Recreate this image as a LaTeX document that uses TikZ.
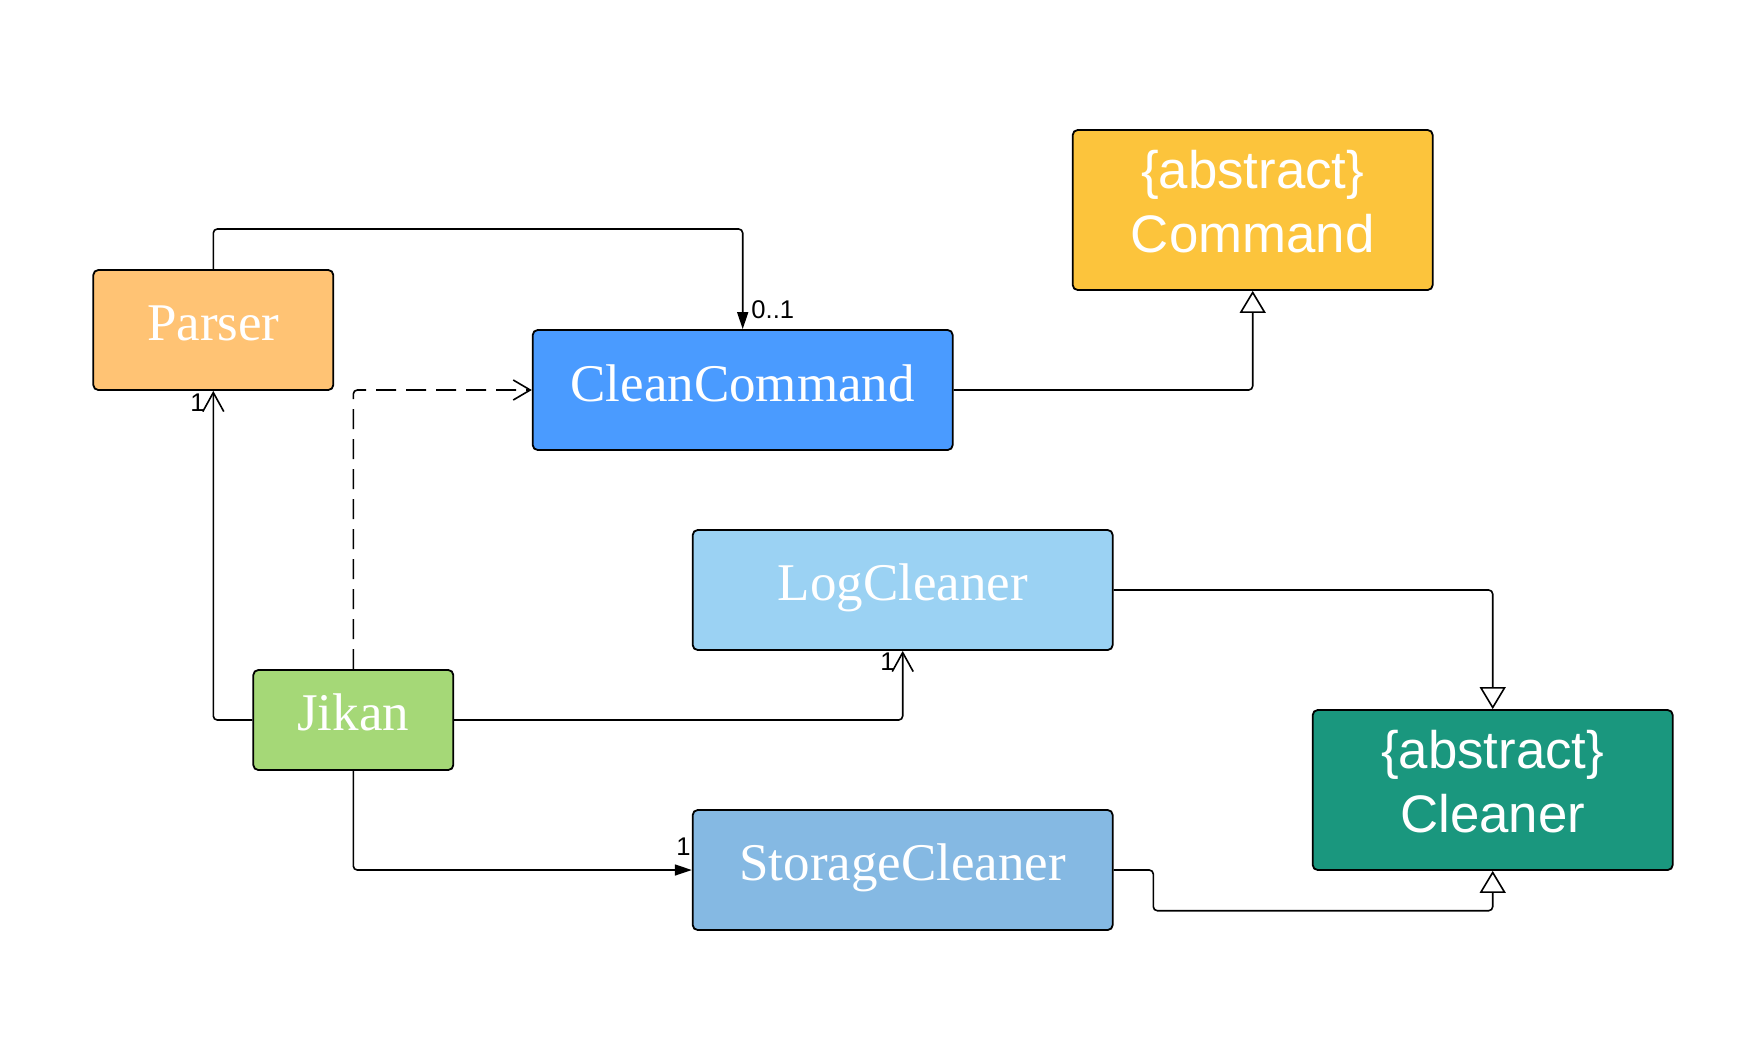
\documentclass[tikz,border=0pt]{standalone}
\usepackage{fontspec}
\setmainfont{Liberation Serif}
\newfontfamily\sansf{Liberation Sans}
\usetikzlibrary{arrows.meta,calc}
\definecolor{cParser}{HTML}{FFC374}
\definecolor{cClean}{HTML}{4A9BFF}
\definecolor{cCommand}{HTML}{FCC43C}
\definecolor{cLog}{HTML}{9BD2F3}
\definecolor{cJikan}{HTML}{A5D877}
\definecolor{cStor}{HTML}{85B9E3}
\definecolor{cCleaner}{HTML}{1A977E}
\tikzset{
  classbox/.style={draw=black, line width=0.9pt, rounded corners=2.5pt, inner sep=0pt},
  serifname/.style={inner sep=0pt, anchor=base, text=white, font=\fontsize{26.5pt}{32pt}\selectfont},
  sansname/.style={inner sep=0pt, anchor=base, text=white, font=\sansf\fontsize{26.4pt}{32pt}\selectfont},
  mult/.style={inner sep=0pt, anchor=base west, font=\sansf\fontsize{12.8pt}{15pt}\selectfont},
  conn/.style={draw=black, line width=0.8pt, rounded corners=2pt},
  nav/.style={conn, -{Straight Barb[length=9.5pt,width=10.5pt]}},
  filled/.style={conn, -{Triangle[length=8.5pt,width=5.5pt]}},
  inherit/.style={conn, -{Triangle[length=11pt,width=13pt,fill=white]}},
  depend/.style={conn, dash pattern=on 10pt off 5pt, -{Straight Barb[length=8.5pt,width=10pt]}}
}
\begin{document}
\begin{tikzpicture}[x=0.5pt,y=-0.5pt]
\useasboundingbox (0,0) rectangle (1745,1062);
% boxes
\node[classbox, fill=cParser, minimum width=120pt, minimum height=60pt] (parser) at (213.3,330) {};
\node[classbox, fill=cClean, minimum width=210pt, minimum height=60pt] (cleancmd) at (742.7,390) {};
\node[classbox, fill=cCommand, minimum width=180pt, minimum height=80pt] (command) at (1252.7,210) {};
\node[classbox, fill=cLog, minimum width=210pt, minimum height=60pt] (logc) at (902.7,590) {};
\node[classbox, fill=cStor, minimum width=210pt, minimum height=60pt] (storc) at (902.7,870) {};
\node[classbox, fill=cJikan, minimum width=100pt, minimum height=50pt] (jikan) at (353.3,720) {};
\node[classbox, fill=cCleaner, minimum width=180pt, minimum height=80pt] (cleaner) at (1492.7,790) {};
% texts
\node[serifname] (tparser) at ($(parser.center)+(0,10)$) {Parser};
\node[serifname] (tclean) at ($(cleancmd.center)+(0,11)$) {CleanCommand};
\node[serifname] (tlog) at ($(logc.center)+(0,10)$) {LogCleaner};
\node[serifname] (tstor) at ($(storc.center)+(0,10)$) {StorageCleaner};
\node[serifname] (tjikan) at ($(jikan.center)+(0,10)$) {Jikan};
\node[sansname] (tcmd1) at ($(command.center)+(0,-21.5)$) {\{abstract\}};
\node[sansname] (tcmd2) at ($(command.center)+(0,42.5)$) {Command};
\node[sansname] (tcln1) at ($(cleaner.center)+(0,-21.5)$) {\{abstract\}};
\node[sansname] (tcln2) at ($(cleaner.center)+(0,42.5)$) {Cleaner};
% connectors
\coordinate (ptop) at (213.3,229);
\draw[filled] (parser.north) |- (ptop -| cleancmd.north) -- (cleancmd.north);
\draw[inherit] (cleancmd.east) -| (command.south);
\draw[nav] (jikan.west) -| (parser.south);
\draw[depend] (jikan.north) |- (cleancmd.west);
\draw[nav] (jikan.east) -| (logc.south);
\draw[filled] (jikan.south) |- (storc.west);
\draw[inherit] (logc.east) -| (cleaner.north);
\coordinate (sbend) at (1153.3,910.7);
\draw[inherit] (storc.east) -| (sbend) -| (cleaner.south);
% multiplicities
\node[mult] (m01) at (751,318) {0..1};
\node[mult] (m1p) at (190,411) {1};
\node[mult] (m1l) at (880,670) {1};
\node[mult] (m1s) at (676,855) {1};
\end{tikzpicture}
\end{document}
